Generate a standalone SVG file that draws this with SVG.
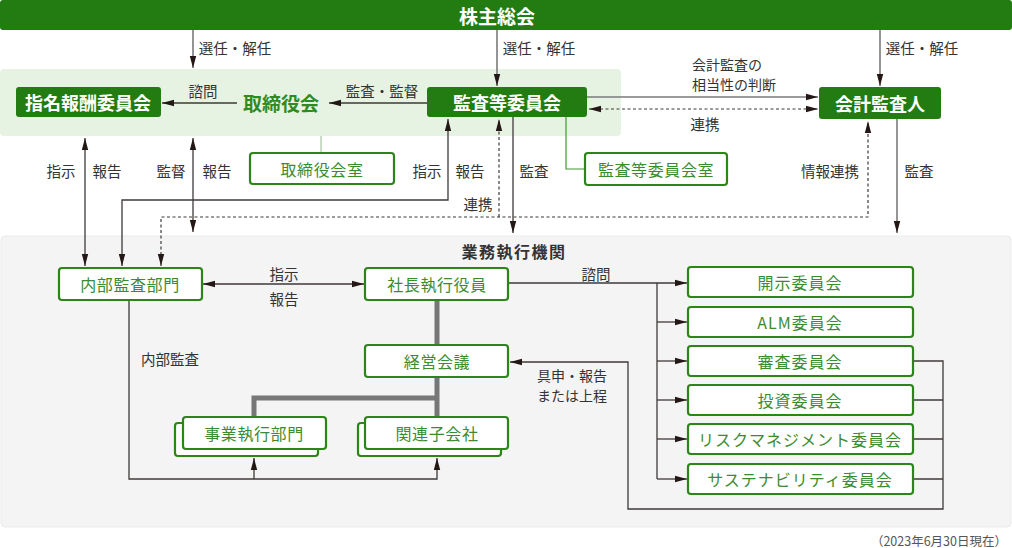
<svg xmlns="http://www.w3.org/2000/svg" width="1012" height="548" viewBox="0 0 1012 548">
<style>
text{font-family:"Noto Sans CJK JP","Noto Sans",sans-serif;dominant-baseline:central;text-anchor:middle}
.hd{fill:#227c12}
.ht{fill:#fff;font-weight:bold;font-size:18px}
.bx{fill:#fff;stroke:#2b8517;stroke-width:2.2}
.bt{fill:#3b8c2f;font-size:16px;letter-spacing:0.6px}
.lb{fill:#333;font-size:14.5px}
.l2{fill:#333;font-size:14px}
.c{fill:none;stroke:#3e3a39;stroke-width:1.3}
.g{fill:none;stroke:#7a7a7a;stroke-width:1.6}
.d{fill:none;stroke:#3e3a39;stroke-width:1.2;stroke-dasharray:3 2.5}
.t{fill:none;stroke:#777;stroke-width:5}
</style>
<defs>
<marker id="a" viewBox="0 0 12 8" refX="12" refY="4" markerWidth="12" markerHeight="8" markerUnits="userSpaceOnUse" orient="auto-start-reverse">
<path d="M0,0.8 L12,4 L0,7.2 Z" fill="#231815"/>
</marker>
</defs>
<rect x="0" y="69" width="621" height="67" rx="4" fill="#e7f3e2"/>
<rect x="1" y="236" width="1010" height="291" rx="4" fill="#f4f4f4" stroke="#ebebeb"/>
<g id="connectors">
<path class="g" d="M193,30 V68" marker-end="url(#a)"/>
<path class="g" d="M497,30 V86" marker-end="url(#a)"/>
<path class="g" d="M880,30 V86" marker-end="url(#a)"/>
<path class="c" d="M237,103 H162" marker-end="url(#a)"/>
<path class="c" d="M427,103 H329" marker-end="url(#a)"/>
<path class="g" d="M587,97 H818" marker-end="url(#a)"/>
<path class="d" d="M589,109 H818" marker-start="url(#a)" marker-end="url(#a)"/>
<path fill="none" stroke="#aac6a2" stroke-width="1.2" d="M321,136 V153"/>
<path fill="none" stroke="#3f9a30" stroke-width="1.2" d="M566,117 V169 H585"/>
<path class="c" d="M85,138 V266" marker-start="url(#a)" marker-end="url(#a)"/>
<path class="c" d="M193,138 V232" marker-start="url(#a)" marker-end="url(#a)"/>
<path class="c" d="M122,266 V200 H448 V119" marker-start="url(#a)" marker-end="url(#a)"/>
<path class="d" d="M161,266 V217 H868 V121" marker-start="url(#a)" marker-end="url(#a)"/>
<path class="d" d="M499,217 V119" marker-end="url(#a)"/>
<path class="c" d="M513,117 V233" marker-end="url(#a)"/>
<path class="g" d="M897,119 V233" marker-end="url(#a)"/>
<path class="c" d="M203,284 H364" marker-start="url(#a)" marker-end="url(#a)"/>
<path class="t" d="M437,300 V345 M437,377 V417 M437,398 H254 V417"/>
<path class="c" d="M129,300 V479 H437 V458" marker-end="url(#a)"/>
<path class="c" d="M254,479 V458" marker-end="url(#a)"/>
<path class="c" d="M508,283 H687" marker-end="url(#a)"/>
<path class="c" d="M657,283 V479"/>
<path class="c" d="M657,322 H687" marker-end="url(#a)"/>
<path class="c" d="M657,361 H687" marker-end="url(#a)"/>
<path class="c" d="M657,400 H687" marker-end="url(#a)"/>
<path class="c" d="M657,439 H687" marker-end="url(#a)"/>
<path class="c" d="M657,479 H687" marker-end="url(#a)"/>
<path class="c" d="M913,361 H943 V509 H628 V362 H510" marker-end="url(#a)"/>
<path class="c" d="M913,400 H943 M913,439 H943 M913,479 H943"/>
</g>
<g id="labels">
<text class="lb" x="235" y="47">選任・解任</text>
<text class="lb" x="539" y="47">選任・解任</text>
<text class="lb" x="922" y="47">選任・解任</text>
<text class="lb" x="203" y="90">諮問</text>
<text class="lb" x="382" y="90">監査・監督</text>
<text class="l2" x="692" y="64" style="text-anchor:start">会計監査の</text>
<text class="l2" x="692" y="84" style="text-anchor:start">相当性の判断</text>
<text class="lb" x="705" y="123">連携</text>
<text class="lb" x="61" y="170">指示</text>
<text class="lb" x="107" y="170">報告</text>
<text class="lb" x="171" y="170">監督</text>
<text class="lb" x="217" y="170">報告</text>
<text class="lb" x="427" y="170">指示</text>
<text class="lb" x="470" y="170">報告</text>
<text class="lb" x="534" y="170">監査</text>
<text class="lb" x="478" y="203">連携</text>
<text class="lb" x="830" y="170">情報連携</text>
<text class="lb" x="919" y="170">監査</text>
<text x="514" y="251" style="fill:#333;font-size:16px;font-weight:bold;letter-spacing:1.5px">業務執行機関</text>
<text class="lb" x="284" y="273">指示</text>
<text class="lb" x="284" y="298">報告</text>
<text class="lb" x="596" y="273">諮問</text>
<text class="lb" x="170" y="358">内部監査</text>
<text class="l2" x="572" y="375">具申・報告</text>
<text class="l2" x="572" y="395">または上程</text>
<text x="1007" y="540" style="fill:#555;font-size:12.5px;text-anchor:end">（2023年6月30日現在）</text>
</g>
<g id="shareholders">
<rect class="hd" x="0" y="0" width="1012" height="30" rx="3"/>
<text class="ht" x="497" y="15" style="font-size:19px">株主総会</text>
</g>
<g id="nomination">
<rect class="hd" x="16" y="87" width="145" height="30" rx="3"/>
<text class="ht" x="88" y="102">指名報酬委員会</text>
</g>
<g id="board">
<text x="281" y="102" style="fill:#2f8a22;font-size:19px;font-weight:bold">取締役会</text>
</g>
<g id="audit-committee">
<rect class="hd" x="427" y="87" width="160" height="30" rx="3"/>
<text class="ht" x="507" y="102">監査等委員会</text>
</g>
<g id="auditor">
<rect class="hd" x="819" y="87" width="122" height="32" rx="3"/>
<text class="ht" x="880" y="103">会計監査人</text>
</g>
<g id="board-office">
<rect class="bx" x="250" y="153" width="144" height="31" rx="3"/>
<text class="bt" x="322" y="168.5">取締役会室</text>
</g>
<g id="audit-office">
<rect class="bx" x="585" y="153" width="142" height="32" rx="3"/>
<text class="bt" x="656" y="169">監査等委員会室</text>
</g>
<g id="internal-audit">
<rect class="bx" x="59" y="268" width="143" height="32" rx="3"/>
<text class="bt" x="130" y="284">内部監査部門</text>
</g>
<g id="president">
<rect class="bx" x="365" y="268" width="143" height="32" rx="3"/>
<text class="bt" x="437" y="284">社長執行役員</text>
</g>
<g id="management">
<rect class="bx" x="365" y="345" width="143" height="32" rx="3"/>
<text class="bt" x="437" y="361">経営会議</text>
</g>
<g id="business">
<rect class="bx" x="175" y="423" width="143" height="33" rx="3"/>
<rect class="bx" x="183" y="417" width="143" height="32" rx="3"/>
<text class="bt" x="254" y="433">事業執行部門</text>
</g>
<g id="affiliates">
<rect class="bx" x="358" y="423" width="143" height="33" rx="3"/>
<rect class="bx" x="365" y="417" width="143" height="32" rx="3"/>
<text class="bt" x="437" y="433">関連子会社</text>
</g>
<g id="disclosure">
<rect class="bx" x="688" y="267" width="225" height="30" rx="3"/>
<text class="bt" x="800" y="282" style="letter-spacing:1px">開示委員会</text>
</g>
<g id="alm">
<rect class="bx" x="688" y="307" width="225" height="30" rx="3"/>
<text class="bt" x="800" y="322" style="letter-spacing:1px">ALM委員会</text>
</g>
<g id="review">
<rect class="bx" x="688" y="346" width="225" height="30" rx="3"/>
<text class="bt" x="800" y="361" style="letter-spacing:1px">審査委員会</text>
</g>
<g id="investment">
<rect class="bx" x="688" y="385" width="225" height="30" rx="3"/>
<text class="bt" x="800" y="400" style="letter-spacing:1px">投資委員会</text>
</g>
<g id="risk">
<rect class="bx" x="688" y="424" width="225" height="30" rx="3"/>
<text class="bt" x="800" y="439" style="letter-spacing:1px">リスクマネジメント委員会</text>
</g>
<g id="sustainability">
<rect class="bx" x="688" y="464" width="225" height="30" rx="3"/>
<text class="bt" x="800" y="479" style="letter-spacing:1px">サステナビリティ委員会</text>
</g>
</svg>
